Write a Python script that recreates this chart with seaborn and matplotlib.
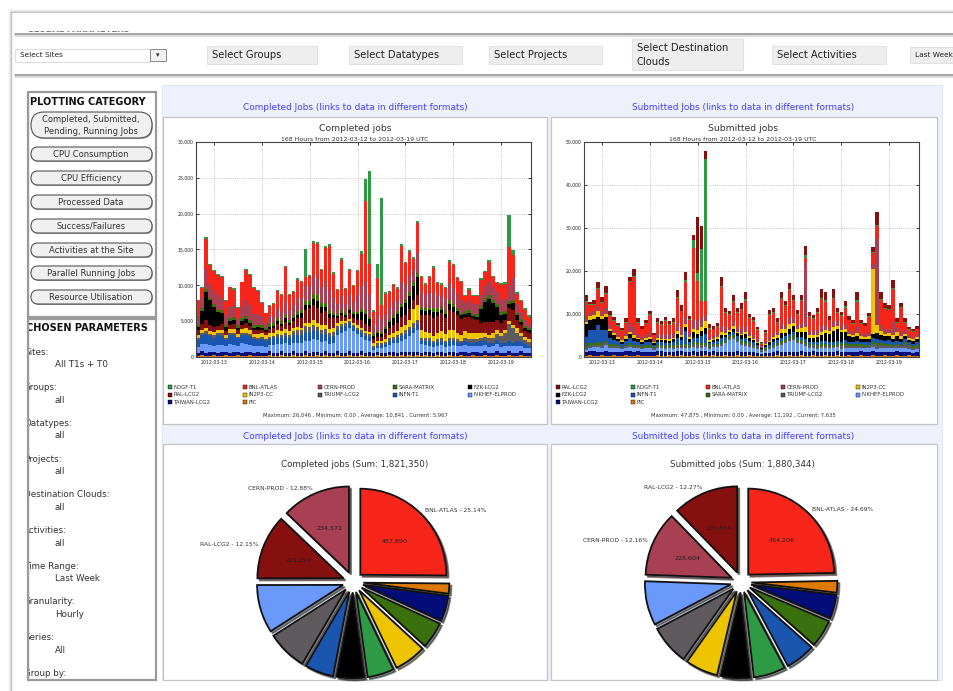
import warnings
warnings.filterwarnings('ignore')
import numpy as np
import matplotlib
matplotlib.use('Agg')
import matplotlib.pyplot as plt
from matplotlib.patches import Rectangle, FancyBboxPatch
import seaborn as sns

# ---------------------------------------------------------------- data
SITE_COLORS = {
    'NDGF-T1': '#2e9a45', 'BNL-ATLAS': '#f8261a', 'CERN-PROD': '#a83f52',
    'SARA-MATRIX': '#3b700f', 'FZK-LCG2': '#000000', 'RAL-LCG2': '#85100f',
    'IN2P3-CC': '#eec400', 'TRIUMF-LCG2': '#5e5a5d', 'INFN-T1': '#1a56b0',
    'NIKHEF-ELPROD': '#6a98fb', 'TAIWAN-LCG2': '#020d7a', 'PIC': '#dd7a06',
}
DATE_TICKS = ['2012-03-13', '2012-03-14', '2012-03-15', '2012-03-16',
              '2012-03-17', '2012-03-18', '2012-03-19']
FIRST_MIDNIGHT_HOUR = 9     # bins start 2012-03-12 15:00
BIN_HOURS = 2
N_BINS = 84

# Completed jobs per 2-hour bin, in hundreds of jobs
completed = {
 'PIC': [2,3,2,2,3,2,2,3,2,2,3,2,2,3,2,2, 2,2,3,2,2,3,2,2,3,2,2,3,2,2,3,
         2,3,2,2,3,2,2,3,2,2,3,2,2,2,3,2, 2,3,2,2,3,2,3,2,3,
         2,3,2,2,3,2,2,3,2,2,3,2,2,3,2, 2,3,2,2,3,2,2,3,2,2,3,2,2],
 'TAIWAN-LCG2': [4,5,4,5,4,4,5,4,4,5,4,4,5,4,4,5, 4,4,5,4,4,5,4,4,5,4,4,5,4,5,4,
         4,5,4,4,5,4,4,5,4,4,5,4,5,3,4,4, 4,4,5,4,4,5,4,5,4,
         4,4,5,4,4,5,4,4,5,4,4,5,4,4,5, 4,5,4,4,5,4,4,5,4,4,5,4,4],
 'NIKHEF-ELPROD': [8,10,12,10,9,11,10,8,12,10,9,13,11,10,9,8, 10,8,9,11,12,10,13,11,12,14,13,15,16,18,17,
         15,14,12,14,22,28,30,32,30,26,20,18,16,5,6,7, 8,10,12,14,16,18,22,26,30,
         12,10,9,8,9,10,8,9,10,9,8,10,9,8,9, 10,9,8,9,10,8,9,8,9,10,8,7,6],
 'INFN-T1': [10,12,14,12,11,13,12,9,13,14,10,12,13,12,10,9, 9,8,8,9,10,9,10,9,10,10,11,12,12,13,12,
         11,10,10,9,8,8,7,7,6,6,6,5,5,3,3,4, 4,5,5,6,6,7,8,8,9,
         5,5,6,5,5,6,5,6,5,6,5,5,6,5,5, 6,5,6,5,6,5,5,6,5,6,5,5,4],
 'TRIUMF-LCG2': [3,3,4,3,3,3,4,3,3,3,2,3,3,3,3,3, 3,3,3,3,4,4,4,5,6,7,7,8,8,7,6,
         6,7,6,6,5,4,4,3,3,3,4,4,4,3,3,3, 3,4,4,4,5,5,5,6,5,
         4,4,4,3,4,4,3,4,4,4,3,4,4,5,4, 5,6,6,7,8,10,14,24,20,12,8,6,5],
 'IN2P3-CC': [4,5,5,4,5,4,5,4,5,5,4,5,6,5,4,5, 5,6,6,5,6,5,6,5,5,5,4,5,6,6,6,
         6,5,5,5,5,4,3,3,3,3,3,3,3,3,3,3, 4,5,5,6,8,8,10,20,22,
         10,9,8,7,8,9,10,12,11,9,8,10,9,8,9, 6,5,5,6,5,4,4,4,5,6,5,4,4],
 'RAL-LCG2': [6,8,10,8,7,6,8,5,6,7,5,6,7,6,5,6, 5,4,5,6,8,7,10,8,9,12,14,18,20,22,20,
         18,20,16,14,6,8,6,8,6,8,10,10,8,6,6,5, 8,10,12,12,14,14,15,12,14,
         22,24,25,26,24,25,22,28,26,24,22,20,22,20,18, 14,16,18,16,15,14,14,18,20,12,10,8,8],
 'FZK-LCG2': [5,18,40,35,28,20,15,6,5,6,4,5,6,5,4,4, 3,2,3,3,4,3,5,4,4,5,6,6,5,8,10,
         8,6,5,4,3,4,3,5,6,8,12,14,10,4,5,4, 6,8,10,12,14,16,18,20,25,
         6,5,6,8,6,5,6,8,7,6,5,4,5,4,4, 20,28,32,26,18,12,8,6,10,6,5,4,4],
 'SARA-MATRIX': [3,4,4,3,4,3,4,3,4,4,3,4,4,4,3,3, 4,3,4,4,4,4,5,4,4,5,5,6,6,7,8,
         6,5,5,4,3,3,3,3,3,3,4,4,3,3,3,3, 3,3,4,4,4,5,5,5,5,
         4,4,4,5,4,4,4,5,4,4,4,4,4,3,4, 4,5,5,5,4,4,4,4,5,4,4,3,3],
 'CERN-PROD': [12,14,28,20,20,22,18,14,16,15,10,16,22,20,16,15, 12,8,10,10,14,13,18,14,14,18,16,22,20,26,24,
         22,30,28,20,14,20,12,18,14,24,32,40,32,12,22,18, 18,16,18,16,30,22,24,18,28,
         20,18,20,22,18,16,18,24,22,20,18,12,15,14,14, 16,18,20,18,16,16,18,22,30,12,10,8,6],
 'BNL-ATLAS': [22,14,42,27,26,27,28,19,27,23,15,34,42,42,36,32, 19,13,15,17,24,24,48,21,19,26,22,11,14,45,47,
         23,47,62,34,20,51,21,34,22,33,45,114,42,19,52,19, 28,22,23,15,51,29,32,15,42,
         22,15,22,34,18,15,14,30,32,22,24,9,14,11,11, 21,18,27,13,13,22,20,53,33,14,15,15,10],
 'NDGF-T1': [1,2,2,1,2,1,2,1,1,2,1,1,2,2,1,1, 1,1,1,1,2,1,2,1,1,2,2,40,2,3,3,
         2,3,3,2,1,2,1,2,1,2,4,30,130,2,20,150, 2,2,2,2,3,2,3,2,3,
         2,2,2,3,2,2,2,3,2,2,2,1,2,2,2, 2,2,3,2,2,2,2,45,6,2,2,2,2],
}

# Submitted jobs per 2-hour bin, in hundreds of jobs
submitted = {
 'PIC': [3,4,3,3,4,3,3,4,3,3,4,3,3,4,3,3, 3,3,4,3,3,4,3,3,4,3,3,4,3,3,4,
         3,4,3,3,4,3,3,4,3,3,4,3,3,2,3,3, 3,4,3,3,4,3,3,4,3,
         3,4,3,3,4,3,3,4,3,3,4,3,3,4,3, 3,4,3,3,4,3,3,4,3,3,4,3,3],
 'TAIWAN-LCG2': [8,9,10,9,8,10,9,8,9,8,9,10,8,9,8,9, 9,8,9,10,9,8,9,10,9,8,9,10,9,10,9,
         8,9,8,9,8,9,8,9,8,9,8,8,7,5,6,7, 8,9,8,9,8,9,8,9,8,
         8,9,8,9,8,9,8,9,8,9,8,9,8,9,8, 8,9,8,9,8,9,8,9,8,9,8,7,8],
 'NIKHEF-ELPROD': [6,8,10,12,10,14,10,8,9,7,8,10,9,8,7,8, 8,6,7,8,7,8,7,9,8,9,8,10,10,9,10,
         8,10,12,14,20,28,30,22,18,14,12,10,8,5,6,8, 10,12,16,20,25,28,22,18,14,
         10,9,8,9,10,8,9,10,8,9,8,9,10,8,9, 9,10,8,9,10,8,9,8,9,8,7,6,7],
 'TRIUMF-LCG2': [4,5,5,4,6,5,4,5,4,3,4,5,4,4,3,4, 4,3,4,4,3,4,4,5,4,5,4,6,5,5,5,
         4,4,4,5,4,4,5,4,4,5,4,4,3,2,3,3, 4,4,5,5,4,5,4,4,5,
         4,5,4,5,4,5,4,5,6,8,6,5,4,5,4, 5,8,10,6,5,6,5,6,5,10,6,6,6],
 'SARA-MATRIX': [5,6,5,6,5,6,4,5,4,3,4,5,4,3,4,4, 4,3,4,3,4,3,4,5,4,5,4,5,5,6,5,
         4,4,4,5,4,4,5,4,4,5,4,4,3,2,3,3, 4,4,5,4,5,5,4,4,5,
         4,4,5,4,5,4,5,4,5,4,5,4,5,4,4, 4,5,4,5,4,5,4,4,4,5,4,4,4],
 'INFN-T1': [20,30,30,40,30,25,15,10,8,6,8,12,10,8,6,7, 8,5,7,6,7,6,8,12,10,30,8,10,12,15,20,
         5,5,6,8,6,5,7,6,6,8,6,5,4,2,3,5, 6,6,8,7,8,8,6,7,8,
         6,5,6,7,6,5,7,6,5,6,5,6,7,5,6, 6,8,10,8,7,8,6,7,6,8,6,5,6],
 'FZK-LCG2': [30,25,25,20,25,30,15,10,6,5,6,8,7,5,4,5, 6,4,5,5,6,5,6,10,8,10,6,12,10,12,15,
         4,4,5,8,6,5,8,6,7,10,6,5,4,2,3,5, 6,6,10,8,12,14,10,12,15,
         10,8,12,14,18,20,25,28,22,18,12,10,12,8,8, 8,10,12,12,10,10,8,10,8,6,5,6,7],
 'IN2P3-CC': [6,8,10,12,8,8,6,5,4,4,5,6,5,4,4,4, 4,3,4,4,4,4,4,6,5,6,4,8,8,10,15,
         3,3,4,5,4,4,5,4,4,5,4,4,3,2,3,4, 5,6,10,8,10,8,8,10,12,
         6,8,6,8,7,6,8,7,6,8,6,5,6,5,5, 5,150,20,8,6,7,8,10,6,5,5,5,5],
 'CERN-PROD': [10,8,8,12,10,12,10,8,8,7,8,20,20,8,7,8, 10,6,10,8,10,8,10,20,15,18,10,20,25,20,15,
         6,6,8,15,10,8,12,10,12,14,10,8,6,3,5,8, 10,8,12,10,15,12,10,12,150,
         10,8,10,14,12,8,14,10,8,12,8,8,14,8,7, 10,12,200,15,12,10,30,10,10,8,6,5,8],
 'BNL-ATLAS': [36,18,15,40,20,33,20,20,17,15,24,95,116,27,18,24, 42,9,26,24,30,25,25,57,39,81,30,168,90,40,32,
         21,15,16,90,37,27,45,34,43,58,32,32,21,6,20,52, 47,21,58,44,65,39,23,50,10,
         32,28,41,62,55,17,51,20,24,38,23,18,60,21,17, 35,26,29,57,45,43,77,11,56,17,11,11,10],
 'NDGF-T1': [2,2,2,3,2,3,2,2,2,1,2,3,3,2,2,2, 2,1,2,2,2,2,2,3,2,3,2,20,18,120,330,
         2,2,2,3,2,2,3,2,2,3,2,2,2,1,2,2, 2,2,3,2,3,2,2,3,8,
         2,2,2,3,3,2,3,2,2,3,2,2,3,2,2, 2,3,4,3,2,3,2,3,2,3,2,2,2],
 'RAL-LCG2': [15,4,10,14,12,16,10,8,6,6,8,8,16,8,6,8, 8,4,8,6,8,6,8,15,12,20,8,10,130,55,18,
         8,6,8,20,10,8,14,10,14,16,8,8,6,3,5,10, 10,8,12,10,14,12,10,12,20,
         10,8,10,20,18,8,20,10,8,12,8,8,20,8,7, 8,10,30,15,12,10,20,8,8,8,6,6,7],
}

STACK_COMPLETED = ['PIC', 'TAIWAN-LCG2', 'NIKHEF-ELPROD', 'INFN-T1', 'TRIUMF-LCG2', 'IN2P3-CC',
                   'RAL-LCG2', 'FZK-LCG2', 'SARA-MATRIX', 'CERN-PROD', 'BNL-ATLAS', 'NDGF-T1']
STACK_SUBMITTED = ['PIC', 'TAIWAN-LCG2', 'NIKHEF-ELPROD', 'TRIUMF-LCG2', 'SARA-MATRIX', 'INFN-T1',
                   'FZK-LCG2', 'IN2P3-CC', 'CERN-PROD', 'BNL-ATLAS', 'NDGF-T1', 'RAL-LCG2']
LEGEND_COMPLETED = ['NDGF-T1', 'BNL-ATLAS', 'CERN-PROD', 'SARA-MATRIX', 'FZK-LCG2',
                    'RAL-LCG2', 'IN2P3-CC', 'TRIUMF-LCG2', 'INFN-T1', 'NIKHEF-ELPROD',
                    'TAIWAN-LCG2', 'PIC']
LEGEND_SUBMITTED = ['RAL-LCG2', 'NDGF-T1', 'BNL-ATLAS', 'CERN-PROD', 'IN2P3-CC',
                    'FZK-LCG2', 'INFN-T1', 'SARA-MATRIX', 'TRIUMF-LCG2', 'NIKHEF-ELPROD',
                    'TAIWAN-LCG2', 'PIC']
YTICKS_COMPLETED = [0, 5000, 10000, 15000, 20000, 25000, 30000]
YTICKS_SUBMITTED = [0, 10000, 20000, 30000, 40000, 50000]
STATS_COMPLETED = 'Maximum: 26,046 , Minimum: 0.00 , Average: 10,841 , Current: 5,967'
STATS_SUBMITTED = 'Maximum: 47,875 , Minimum: 0.00 , Average: 11,192 , Current: 7,635'

# pie slices, clockwise from 12 o'clock
PIE_COMPLETED_SITES = ['BNL-ATLAS', 'PIC', 'TAIWAN-LCG2', 'SARA-MATRIX', 'IN2P3-CC', 'NDGF-T1',
                       'FZK-LCG2', 'INFN-T1', 'TRIUMF-LCG2', 'NIKHEF-ELPROD', 'RAL-LCG2', 'CERN-PROD']
PIE_COMPLETED_VALUES = [457890, 34600, 87400, 91100, 109300, 91000,
                        94700, 98400, 136600, 164565, 221224, 234571]
PIE_SUBMITTED_SITES = ['BNL-ATLAS', 'PIC', 'TAIWAN-LCG2', 'SARA-MATRIX', 'INFN-T1', 'NDGF-T1',
                       'FZK-LCG2', 'IN2P3-CC', 'TRIUMF-LCG2', 'NIKHEF-ELPROD', 'CERN-PROD', 'RAL-LCG2']
PIE_SUBMITTED_VALUES = [464206, 41400, 84600, 97800, 105300, 112800,
                        103400, 114700, 141000, 155880, 228604, 230654]

SELECTORS = ['Select Groups', 'Select Datatypes', 'Select Projects',
             'Select Destination\nClouds', 'Select Activities']
BUTTONS = ['Completed, Submitted,\nPending, Running Jobs', 'CPU Consumption', 'CPU Efficiency',
           'Processed Data', 'Success/Failures', 'Activities at the Site',
           'Parallel Running Jobs', 'Resource Utilisation']
PARAMS = [('Sites:', 'All T1s + T0'), ('Groups:', 'all'), ('Datatypes:', 'all'),
          ('Projects:', 'all'), ('Destination Clouds:', 'all'), ('Activities:', 'all'),
          ('Time Range:', 'Last Week'), ('Granularity:', 'Hourly'), ('Series:', 'All'),
          ('Group by:', '')]

for d in (completed, submitted):
    for k, v in d.items():
        assert len(v) == N_BINS, (k, len(v))

# ---------------------------------------------------------------- figure
W, H = 954, 691
sns.set_theme(style='white')
plt.rcParams['font.family'] = ['DejaVu Sans']

fig = plt.figure(figsize=(W / 100, H / 100), dpi=100)
fig.patch.set_facecolor('white')
bg = fig.add_axes([0, 0, 1, 1])
bg.set_xlim(0, W)
bg.set_ylim(H, 0)
bg.axis('off')


def rect(x0, y0, x1, y1):
    return [x0 / W, 1 - y1 / H, (x1 - x0) / W, (y1 - y0) / H]


def box(x0, y0, x1, y1, fc='white', ec='none', lw=0.8, z=1):
    bg.add_patch(Rectangle((x0, y0), x1 - x0, y1 - y0, facecolor=fc, edgecolor=ec, lw=lw, zorder=z))


def txt(x, y, s, size, **kw):
    kw.setdefault('va', 'center')
    kw.setdefault('color', '#222222')
    return bg.text(x, y, s, fontsize=size, **kw)


# page frame with soft shadow
for i, c in enumerate(['#f2f2f2', '#e2e2e2', '#c4c4c4']):
    bg.plot([9 + i, W], [10 + i, 10 + i], color=c, lw=1, zorder=1)
    bg.plot([9 + i, 9 + i], [10 + i, H], color=c, lw=1, zorder=1)

# cut heading
txt(27, 29, 'GLOBAL PARAMETERS', 6, weight='bold', color='#777777')
box(13, 13, 200, 30.5, fc='white', z=3.5)
for y, c in [(34, '#8c8c8c'), (36, '#cfcfcf'), (75, '#8c8c8c'), (77, '#cfcfcf')]:
    bg.plot([15, W], [y, y], color=c, lw=1.1, zorder=2)

# selector row
box(15, 48.5, 150, 61.5, fc='white', ec='#dddddd')
txt(20, 55, 'Select Sites', 5.3)
box(150, 49, 166, 61, fc='#f1f1f1', ec='#8a8a8a', lw=0.7)
txt(158, 55.5, '\u25be', 5, ha='center')
sel_boxes = [(207, 317), (349, 462), (489, 602), (632, 743), (772, 886)]
for (x0, x1), s in zip(sel_boxes, SELECTORS):
    if '\n' in s:
        box(x0, 39, x1, 70, fc='#eeeeee', ec='#e2e2e2')
        a, b = s.split('\n')
        txt(x0 + 5, 48, a, 7.2)
        txt(x0 + 5, 62, b, 7.2)
    else:
        box(x0, 46, x1, 64, fc='#eeeeee', ec='#e2e2e2')
        txt(x0 + 5, 55, s, 7.2)
box(910, 47, 960, 63, fc='#eeeeee', ec='#e2e2e2')
txt(915, 55, 'Last Week', 5.3)

# left column panels
box(28.5, 92, 156, 317, fc='white', ec='#9a9a9a', lw=1.6, z=1)
box(28.5, 319, 156, 680, fc='white', ec='#9a9a9a', lw=1.6, z=1)
txt(30, 102, 'PLOTTING CATEGORY', 7, weight='bold', color='#111111')
btn_geo = [(112, 138)] + [(c - 7, c + 7) for c in [154, 178, 202, 226, 250, 273, 297]]
for (y0, y1), s in zip(btn_geo, BUTTONS):
    h = y1 - y0
    bg.add_patch(FancyBboxPatch((32, y0 + 1), 121, h, boxstyle=f'round,pad=0,rounding_size={h / 2}',
                                facecolor='#9a9a9a', edgecolor='none', zorder=2))
    bg.add_patch(FancyBboxPatch((31, y0), 121, h, boxstyle=f'round,pad=0,rounding_size={h / 2}',
                                facecolor='#f0f0f0', edgecolor='#555555', lw=0.8, zorder=2.2))
    lines = s.split('\n')
    if len(lines) == 2:
        txt(91, y0 + 7, lines[0], 6, ha='center', color='#333333', zorder=3)
        txt(91, y0 + 19, lines[1], 6, ha='center', color='#333333', zorder=3)
    else:
        txt(91, (y0 + y1) / 2, s, 6, ha='center', color='#333333', zorder=3)

txt(26, 328, 'CHOSEN PARAMETERS', 7, weight='bold', color='#111111')
for i, (lab, val) in enumerate(PARAMS):
    y = 352 + i * 35.7
    txt(24, y, lab, 6.3, color='#333333')
    if val:
        txt(55, y + 12.5, val, 6.3, color='#333333')
box(13, 86, 28, 690, fc='white', z=4)
bg.plot([28.5, 28.5], [92, 680], color='#9a9a9a', lw=1.6, zorder=5)

# main lavender area and white panels
box(162, 85, 942, 680, fc='#eef0fc', ec='#dfe2f5', lw=0.6)
panels = [(163, 117, 547, 424), (551, 117, 937, 424), (163, 444, 547, 680), (551, 444, 937, 680)]
for p in panels:
    box(*p, fc='white', ec='#c4c4c4', lw=0.9, z=1.5)

LINK = '#4242ff'
txt(355, 107, 'Completed Jobs (links to data in different formats)', 6.4, ha='center', color=LINK)
txt(743, 107, 'Submitted Jobs (links to data in different formats)', 6.4, ha='center', color=LINK)
txt(355, 436, 'Completed Jobs (links to data in different formats)', 6.4, ha='center', color=LINK)
txt(743, 436, 'Submitted Jobs (links to data in different formats)', 6.4, ha='center', color=LINK)

SUBTITLE = '168 Hours from 2012-03-12 to 2012-03-19 UTC'
txt(355, 128, 'Completed jobs', 6.7, ha='center', color='#333333')
txt(355, 139, SUBTITLE, 4.5, ha='center', color='#333333')
txt(743, 128, 'Submitted jobs', 6.7, ha='center', color='#333333')
txt(743, 139, SUBTITLE, 4.5, ha='center', color='#333333')

tick_pos = [(FIRST_MIDNIGHT_HOUR + 24 * k) / BIN_HOURS - 0.5 for k in range(len(DATE_TICKS))]


def stacked(px, series, order, yticks):
    ax = fig.add_axes(rect(*px))
    ax.set_facecolor('white')
    x = np.arange(N_BINS)
    cum = np.zeros(N_BINS)
    tops = []
    for name in order:
        cum = cum + np.asarray(series[name], float) * 100
        tops.append((name, cum.copy()))
    for name, top in reversed(tops):
        sns.barplot(x=x, y=top, color=SITE_COLORS[name], saturation=1, width=0.86,
                    linewidth=0, edgecolor='none', errorbar=None, ax=ax)
    ax.set_xlim(-0.5, N_BINS - 0.5)
    ax.set_ylim(yticks[0], yticks[-1])
    ax.set_xticks(tick_pos)
    ax.set_xticklabels(DATE_TICKS)
    ax.set_yticks(yticks)
    ax.set_yticklabels([f'{v:,}' for v in yticks])
    ax.set_xlabel('')
    ax.set_ylabel('')
    ax.set_axisbelow(True)
    ax.grid(True, ls=':', lw=0.5, color='#a0a0a0')
    ax.tick_params(direction='in', length=2.5, width=0.6, labelsize=3.3, pad=2,
                   top=True, right=True, bottom=True, left=True, colors='#222222')
    for sp in ax.spines.values():
        sp.set_color('#444444')
        sp.set_linewidth(0.8)
    return ax


stacked((196, 142, 531, 357), completed, STACK_COMPLETED, YTICKS_COMPLETED)
stacked((584, 142, 919, 357), submitted, STACK_SUBMITTED, YTICKS_SUBMITTED)


def legend(x0, names):
    for i, n in enumerate(names):
        r, c = divmod(i, 5)
        x = x0 + 75 * c
        y = 387 + 7.5 * r
        bg.add_patch(Rectangle((x - 2, y - 2), 4, 4, facecolor=SITE_COLORS[n], edgecolor='black',
                               lw=0.3, zorder=3))
        txt(x + 3.5, y, n, 3.9, color='#333333', zorder=3)


legend(170, LEGEND_COMPLETED)
legend(558, LEGEND_SUBMITTED)
txt(355, 415, STATS_COMPLETED, 3.8, ha='center', color='#333333')
txt(743, 415, STATS_SUBMITTED, 3.8, ha='center', color='#333333')

PX_PER_R = 86.0
EXPLODE = 0.12


def draw_pie(px, center, title_x, names, values, title):
    x0, y0, x1, y1 = px
    cx, cy = center
    ax = fig.add_axes(rect(*px))
    ax.set_facecolor('none')
    total = sum(values)
    top3 = sorted(range(len(values)), key=lambda i: -values[i])[:3]
    labels = [f'{names[i]} - {100 * values[i] / total:.2f}%' if i in top3 else ''
              for i in range(len(values))]
    wedges, texts, autotexts = ax.pie(
        values, colors=[SITE_COLORS[n] for n in names], startangle=90, counterclock=False,
        explode=[EXPLODE] * len(values), labels=labels, labeldistance=1.06,
        autopct='%1.0f', pctdistance=0.56,
        shadow={'ox': 0.018, 'oy': -0.018, 'shade': 0.85},
        wedgeprops=dict(edgecolor='#111111', linewidth=1.3),
        textprops=dict(fontsize=4.3, color='#333333'))
    for i, t in enumerate(autotexts):
        t.set_text(f'{values[i]:,}' if i in top3 else '')
        t.set_fontsize(4.6)
        t.set_color('#222222')
    ax.set_aspect('auto')
    ax.set_xlim((x0 - cx) / PX_PER_R, (x1 - cx) / PX_PER_R)
    ax.set_ylim((cy - y1) / PX_PER_R, (cy - y0) / PX_PER_R)
    ax.axis('off')
    txt(title_x, 464, f'{title} (Sum: {total:,})', 6.3, ha='center', color='#333333')


draw_pie((164, 470, 546, 679.5), (353, 582), 355, PIE_COMPLETED_SITES, PIE_COMPLETED_VALUES, 'Completed jobs')
draw_pie((552, 470, 936, 679.5), (741, 582), 743, PIE_SUBMITTED_SITES, PIE_SUBMITTED_VALUES, 'Submitted jobs')

fig.savefig('out.png', dpi=100)
